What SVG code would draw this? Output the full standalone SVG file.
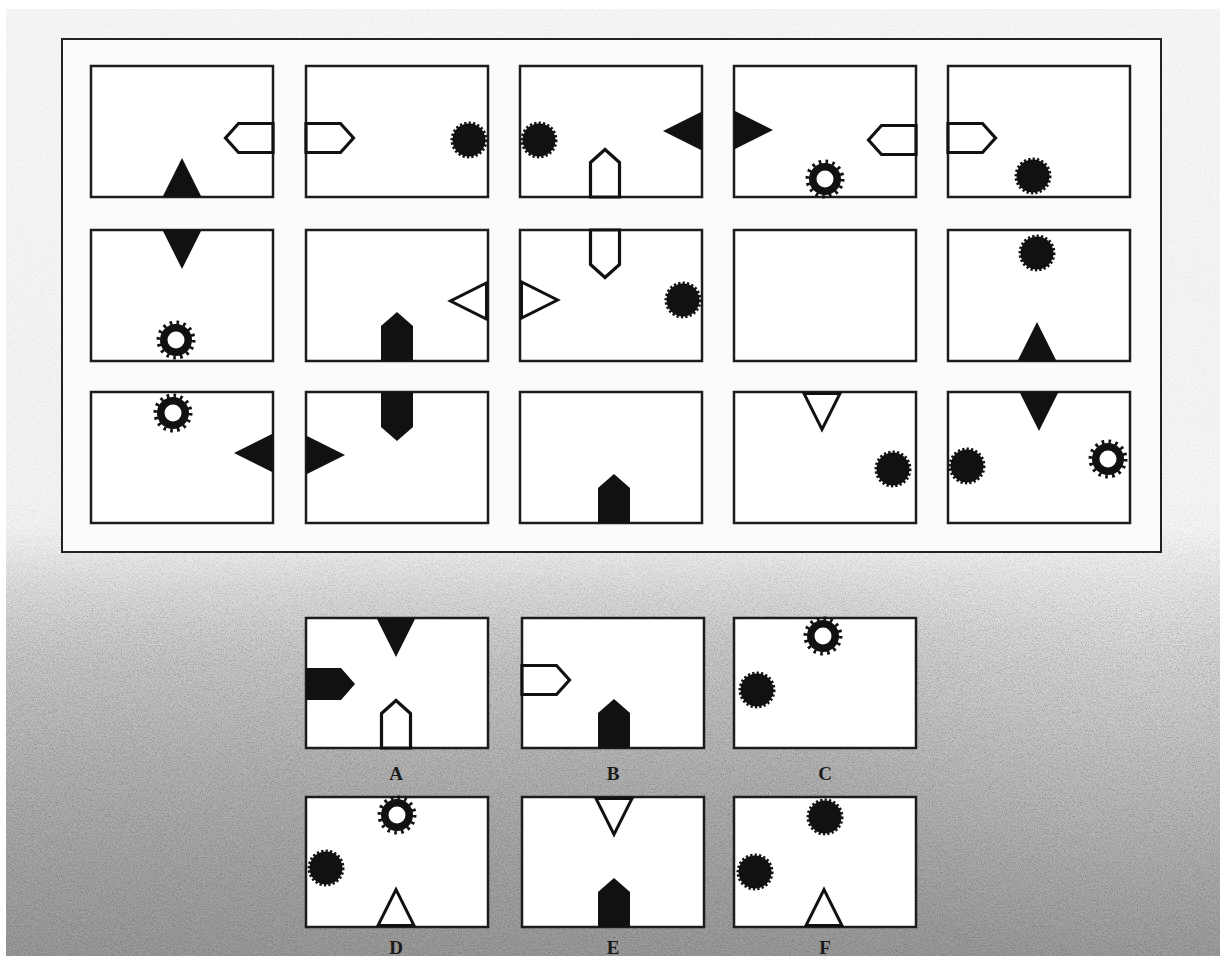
<svg xmlns="http://www.w3.org/2000/svg" width="1220" height="956" viewBox="0 0 1220 956">
<style>
.box{fill:#fff;stroke:#1c1c1c;stroke-width:2.5}
.fill{fill:#111}
.lbl{font-family:"Liberation Serif","Times New Roman",serif;font-weight:bold;font-size:19px;fill:#1a1a1a;text-anchor:middle}
</style>
<defs>
<linearGradient id="bg" gradientUnits="userSpaceOnUse" x1="0" y1="9" x2="0" y2="956">
<stop offset="0" stop-color="#f7f7f7"/>
<stop offset="0.55" stop-color="#f4f4f4"/>
<stop offset="0.61" stop-color="#dedede"/>
<stop offset="0.69" stop-color="#c8c8c8"/>
<stop offset="0.80" stop-color="#b4b4b4"/>
<stop offset="0.90" stop-color="#a6a6a6"/>
<stop offset="1" stop-color="#9b9b9b"/>
</linearGradient>
<radialGradient id="glow" gradientUnits="userSpaceOnUse" cx="1150" cy="610" r="380">
<stop offset="0" stop-color="#fff" stop-opacity="0.3"/>
<stop offset="1" stop-color="#fff" stop-opacity="0"/>
</radialGradient>
<linearGradient id="fade" gradientUnits="userSpaceOnUse" x1="0" y1="0" x2="0" y2="956">
<stop offset="0" stop-color="#fff" stop-opacity="0.25"/>
<stop offset="0.52" stop-color="#fff" stop-opacity="0.3"/>
<stop offset="0.66" stop-color="#fff" stop-opacity="1"/>
<stop offset="1" stop-color="#fff" stop-opacity="1"/>
</linearGradient>
<mask id="grainMask" maskUnits="userSpaceOnUse" x="0" y="0" width="1220" height="956">
<rect x="0" y="0" width="1220" height="956" fill="url(#fade)"/>
</mask>
<filter id="grain" x="0" y="0" width="1" height="1">
<feTurbulence type="fractalNoise" baseFrequency="0.75" numOctaves="2" seed="7"/>
<feColorMatrix type="matrix" values="0 0 0 0 0  0 0 0 0 0  0 0 0 0 0  1.6 0 0 0 -0.65"/>
</filter>
<polygon id="tri" class="fill" points="-19.5,0 19.5,0 0,-39"/>
<polygon id="otri" points="-18,-1.5 18,-1.5 0,-37.5" fill="#fff" stroke="#111" stroke-width="3"/>
<polygon id="pen" class="fill" points="-16,0 16,0 16,-35 0,-49 -16,-35"/>
<polygon id="open" points="-14.5,0 14.5,0 14.5,-34.5 0,-47.5 -14.5,-34.5" fill="#fff" stroke="#111" stroke-width="3.2"/>
<g id="dot"><circle r="16.5" fill="#111"/><circle r="17" fill="none" stroke="#111" stroke-width="3" stroke-dasharray="2.2 2.2"/></g>
<g id="sun"><circle r="16" fill="#111"/><circle r="17.5" fill="none" stroke="#111" stroke-width="4" stroke-dasharray="2.6 4.27"/><circle r="8.5" fill="#fff"/></g>
</defs>

<rect x="0" y="0" width="1220" height="956" fill="#fff"/>
<rect x="6" y="9" width="1214" height="947" fill="url(#bg)"/>
<rect x="6" y="9" width="1214" height="947" fill="url(#glow)"/>
<g mask="url(#grainMask)"><rect x="6" y="9" width="1214" height="947" filter="url(#grain)" opacity="0.32"/></g>

<g id="frame"><rect x="62" y="39" width="1099" height="513" fill="#fbfbfb" stroke="#222" stroke-width="2"/></g>

<g id="cell-1-1"><rect class="box" x="91" y="66" width="182" height="131"/>
<use href="#tri" transform="translate(182,197)"/>
<use href="#open" transform="translate(273,138) rotate(-90)"/></g>

<g id="cell-1-2"><rect class="box" x="306" y="66" width="182" height="131"/>
<use href="#open" transform="translate(306,138) rotate(90)"/>
<use href="#dot" transform="translate(469,140)"/></g>

<g id="cell-1-3"><rect class="box" x="520" y="66" width="182" height="131"/>
<use href="#dot" transform="translate(539,140)"/>
<use href="#open" transform="translate(605,197)"/>
<use href="#tri" transform="translate(702,131) rotate(-90)"/></g>

<g id="cell-1-4"><rect class="box" x="734" y="66" width="182" height="131"/>
<use href="#tri" transform="translate(734,130) rotate(90)"/>
<use href="#open" transform="translate(916,140) rotate(-90)"/>
<use href="#sun" transform="translate(825,179)"/></g>

<g id="cell-1-5"><rect class="box" x="948" y="66" width="182" height="131"/>
<use href="#open" transform="translate(948,138) rotate(90)"/>
<use href="#dot" transform="translate(1033,176)"/></g>

<g id="cell-2-1"><rect class="box" x="91" y="230" width="182" height="131"/>
<use href="#tri" transform="translate(182,230) rotate(180)"/>
<use href="#sun" transform="translate(176,340)"/></g>

<g id="cell-2-2"><rect class="box" x="306" y="230" width="182" height="131"/>
<use href="#otri" transform="translate(488,301) rotate(-90)"/>
<use href="#pen" transform="translate(397,361)"/></g>

<g id="cell-2-3"><rect class="box" x="520" y="230" width="182" height="131"/>
<use href="#open" transform="translate(605,230) rotate(180)"/>
<use href="#otri" transform="translate(520,300) rotate(90)"/>
<use href="#dot" transform="translate(683,300)"/></g>

<g id="cell-2-4"><rect class="box" x="734" y="230" width="182" height="131"/></g>

<g id="cell-2-5"><rect class="box" x="948" y="230" width="182" height="131"/>
<use href="#dot" transform="translate(1037,253)"/>
<use href="#tri" transform="translate(1037,361)"/></g>

<g id="cell-3-1"><rect class="box" x="91" y="392" width="182" height="131"/>
<use href="#sun" transform="translate(173,413)"/>
<use href="#tri" transform="translate(273,453) rotate(-90)"/></g>

<g id="cell-3-2"><rect class="box" x="306" y="392" width="182" height="131"/>
<use href="#tri" transform="translate(306,455) rotate(90)"/>
<use href="#pen" transform="translate(397,392) rotate(180)"/></g>

<g id="cell-3-3"><rect class="box" x="520" y="392" width="182" height="131"/>
<use href="#pen" transform="translate(614,523)"/></g>

<g id="cell-3-4"><rect class="box" x="734" y="392" width="182" height="131"/>
<use href="#otri" transform="translate(822,392) rotate(180)"/>
<use href="#dot" transform="translate(893,469)"/></g>

<g id="cell-3-5"><rect class="box" x="948" y="392" width="182" height="131"/>
<use href="#tri" transform="translate(1039,392) rotate(180)"/>
<use href="#dot" transform="translate(967,466)"/>
<use href="#sun" transform="translate(1108,459)"/></g>

<g id="option-A"><rect class="box" x="306" y="618" width="182" height="130"/>
<use href="#tri" transform="translate(396,618) rotate(180)"/>
<use href="#pen" transform="translate(306,684) rotate(90)"/>
<use href="#open" transform="translate(396,748)"/>
<text class="lbl" x="396" y="780">A</text></g>

<g id="option-B"><rect class="box" x="522" y="618" width="182" height="130"/>
<use href="#open" transform="translate(522,680) rotate(90)"/>
<use href="#pen" transform="translate(614,748)"/>
<text class="lbl" x="613" y="780">B</text></g>

<g id="option-C"><rect class="box" x="734" y="618" width="182" height="130"/>
<use href="#sun" transform="translate(823,636)"/>
<use href="#dot" transform="translate(757,690)"/>
<text class="lbl" x="825" y="780">C</text></g>

<g id="option-D"><rect class="box" x="306" y="797" width="182" height="130"/>
<use href="#sun" transform="translate(397,815)"/>
<use href="#dot" transform="translate(326,868)"/>
<use href="#otri" transform="translate(396,927)"/>
<text class="lbl" x="396" y="954">D</text></g>

<g id="option-E"><rect class="box" x="522" y="797" width="182" height="130"/>
<use href="#otri" transform="translate(614,797) rotate(180)"/>
<use href="#pen" transform="translate(614,927)"/>
<text class="lbl" x="613" y="954">E</text></g>

<g id="option-F"><rect class="box" x="734" y="797" width="182" height="130"/>
<use href="#dot" transform="translate(825,817)"/>
<use href="#dot" transform="translate(755,872)"/>
<use href="#otri" transform="translate(824,927)"/>
<text class="lbl" x="825" y="954">F</text></g>
</svg>
